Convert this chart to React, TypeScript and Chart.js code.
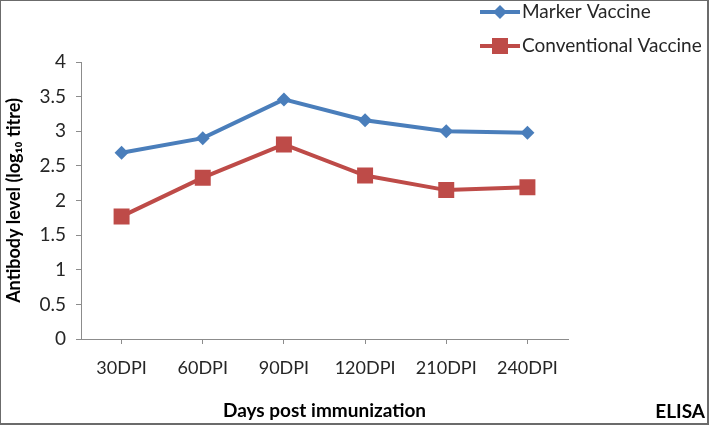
import React, { useEffect, useRef } from "react";
import { Chart, registerables } from "chart.js";

Chart.register(...registerables);

const categories = ["30DPI", "60DPI", "90DPI", "120DPI", "210DPI", "240DPI"];
const markerVaccine = [2.69, 2.9, 3.46, 3.16, 3.0, 2.98];
const conventionalVaccine = [1.77, 2.33, 2.81, 2.36, 2.15, 2.19];
const yTicks = [0, 0.5, 1, 1.5, 2, 2.5, 3, 3.5, 4];
const seriesNames = ["Marker Vaccine", "Conventional Vaccine"];

const FONT = "Lato, 'Open Sans', sans-serif";
const BLUE = "#4A7EBB";
const RED = "#BE4B48";

const customPlugin = {
  id: "custom",
  afterDraw(chart: any) {
    const ctx = chart.ctx;
    ctx.save();
    // frame
    ctx.strokeStyle = "#6b6b6b";
    ctx.lineWidth = 2;
    ctx.strokeRect(0, 0, 708, 424);
    // legend
    const rows = [12, 46];
    chart.data.datasets.forEach((ds: any, i: number) => {
      const y = rows[i];
      ctx.strokeStyle = ds.borderColor;
      ctx.lineWidth = 4;
      ctx.beginPath();
      ctx.moveTo(480, y);
      ctx.lineTo(520, y);
      ctx.stroke();
      ctx.fillStyle = ds.backgroundColor;
      if (ds.pointStyle === "rectRot") {
        const r = 7;
        ctx.beginPath();
        ctx.moveTo(500, y - r);
        ctx.lineTo(500 + r, y);
        ctx.lineTo(500, y + r);
        ctx.lineTo(500 - r, y);
        ctx.closePath();
        ctx.fill();
      } else {
        ctx.fillRect(492, y - 8, 16, 16);
      }
      ctx.fillStyle = "#262626";
      ctx.font = `19px ${FONT}`;
      ctx.textBaseline = "middle";
      ctx.textAlign = "left";
      ctx.fillText(ds.label, 522, y);
    });
    // ELISA
    ctx.fillStyle = "#000";
    ctx.font = `bold 19px ${FONT}`;
    ctx.textAlign = "right";
    ctx.textBaseline = "middle";
    ctx.fillText("ELISA", 705, 412);
    ctx.restore();
  },
};

export default function App() {
  const ref = useRef<HTMLCanvasElement>(null);
  useEffect(() => {
    document.body.style.margin = "0";
    const chart = new Chart(ref.current!, {
      type: "line",
      data: {
        labels: categories,
        datasets: [
          {
            label: seriesNames[0],
            data: markerVaccine,
            borderColor: BLUE,
            backgroundColor: BLUE,
            borderWidth: 4,
            pointStyle: "rectRot",
            pointRadius: 7,
            pointBorderWidth: 0,
            tension: 0,
          },
          {
            label: seriesNames[1],
            data: conventionalVaccine,
            borderColor: RED,
            backgroundColor: RED,
            borderWidth: 4,
            pointStyle: "rect",
            pointRadius: 11.3,
            pointBorderWidth: 0,
            tension: 0,
          },
        ],
      },
      options: {
        animation: false,
        responsive: false,
        layout: { padding: { left: 0, top: 62, right: 141, bottom: 0 } },
        plugins: { legend: { display: false }, tooltip: { enabled: false } },
        scales: {
          x: {
            offset: true,
            grid: { drawOnChartArea: false, drawTicks: true, tickLength: 5, color: "#8c8c8c" },
            border: { display: true, color: "#8c8c8c" },
            ticks: { color: "#262626", font: { size: 18, family: FONT }, padding: 13 },
            title: {
              display: true,
              text: "Days post immunization",
              color: "#000",
              font: { size: 19, weight: "bold", family: FONT },
              padding: 3,
            },
            afterFit: (s: any) => {
              s.height = 86;
            },
          },
          y: {
            min: 0,
            max: 4,
            afterBuildTicks: (s: any) => {
              s.ticks = yTicks.map((v) => ({ value: v }));
            },
            grid: { drawOnChartArea: false, drawTicks: true, tickLength: 5, color: "#8c8c8c" },
            border: { display: true, color: "#8c8c8c" },
            ticks: {
              color: "#262626",
              font: { size: 19, family: FONT },
              padding: 10,
              callback: (v: any) => String(v),
            },
            title: {
              display: true,
              text: "Antibody level (log₁₀ titre)",
              color: "#000",
              font: { size: 18, weight: "bold", family: FONT },
              padding: 3,
            },
            afterFit: (s: any) => {
              s.width = 81;
            },
          },
        },
      },
      plugins: [customPlugin],
    });
    return () => chart.destroy();
  }, []);
  return (
    <div style={{ width: 709, height: 425, background: "#fff" }}>
      <canvas ref={ref} width={709} height={425} />
    </div>
  );
}
